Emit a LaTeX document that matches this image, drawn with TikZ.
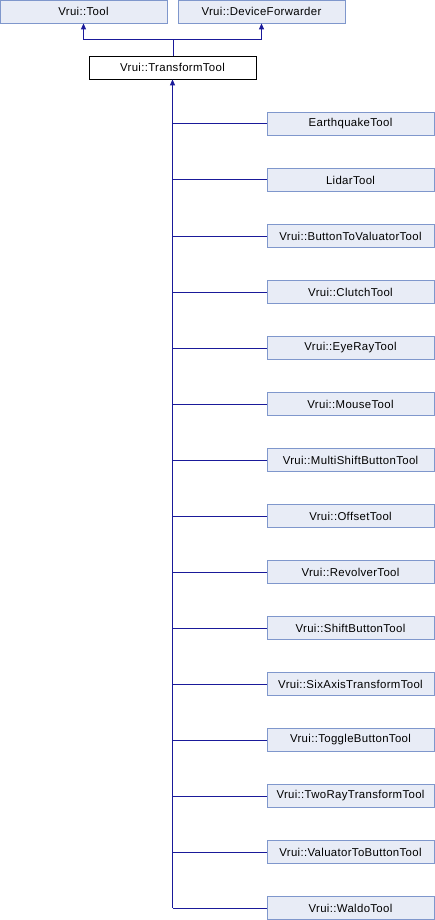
\documentclass[tikz,border=0pt]{standalone}
\usepackage{fontspec}
\setmainfont{Liberation Sans}[LetterSpace=3]
\usetikzlibrary{arrows.meta}
\definecolor{boxfill}{HTML}{E8ECF6}
\definecolor{boxline}{HTML}{7F97CC}
\definecolor{edge}{HTML}{1A1A9A}
\begin{document}
\begin{tikzpicture}[x=1pt,y=-1pt,
  cls/.style={draw=boxline,fill=boxfill,minimum width=167pt,minimum height=23pt,inner sep=0pt,font=\fontsize{11.4}{13}\selectfont,line width=0.8pt},
  cur/.style={cls,draw=black,fill=white},
  inh/.style={draw=edge,line width=1pt},
  tip/.style={-{Triangle[length=6pt,width=5pt]}}]
\useasboundingbox (0,0) rectangle (435,920);
\node[cls] (tool) at (83.5,11.5) {Vrui::Tool};
\node[cls] (fwd) at (261.5,11.5) {Vrui::DeviceForwarder};
\node[cur] (tt) at (172.5,67.5) {Vrui::TransformTool};
\coordinate (j) at (173,40);
\draw[inh] (tt.north -| j) -- (j);
\draw[inh,tip] (j) -| (tool.south);
\draw[inh,tip] (j) -| (fwd.south);
\foreach \n [count=\i from 0] in {EarthquakeTool,LidarTool,Vrui::ButtonToValuatorTool,Vrui::ClutchTool,Vrui::EyeRayTool,Vrui::MouseTool,Vrui::MultiShiftButtonTool,Vrui::OffsetTool,Vrui::RevolverTool,Vrui::ShiftButtonTool,Vrui::SixAxisTransformTool,Vrui::ToggleButtonTool,Vrui::TwoRayTransformTool,Vrui::ValuatorToButtonTool,Vrui::WaldoTool}{
  \node[cls] (c\i) at (350.5,{124+56*\i}) {\n};
  \draw[inh] (c\i.west) -- (c\i.west -| tt.south);
}
\draw[inh,tip] (c14.west -| tt.south) -- (tt.south);
\end{tikzpicture}
\end{document}
